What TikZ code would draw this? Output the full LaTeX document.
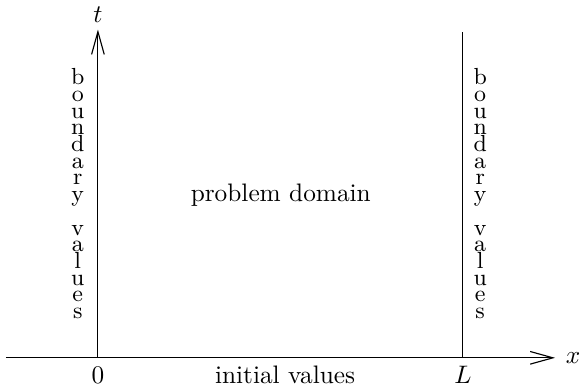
\documentclass[tikz,border=0pt]{standalone}
\usepackage{amsmath}
\usetikzlibrary{positioning,calc,arrows.meta}
\tikzstyle{axis} = [-{Straight Barb[length=9pt,width=5pt]}, line width=0.45pt]
\tikzstyle{wall} = [line width=0.45pt]
\tikzstyle{stack} = [align=center, font=\fontsize{9.2}{6.6}\selectfont]

\begin{document}
\begin{tikzpicture}
\tikzstyle{every node}=[inner sep=1pt, font=\fontsize{10}{12}\selectfont]
	\useasboundingbox (-1.36,-0.39) rectangle (6.71,4.97);
	\coordinate (o) at (0,0);
	\coordinate (xl) at (-1.28,0);
	\coordinate (xr) at (6.35,0);
	\coordinate (tt) at (0,4.56);
	\coordinate (lb) at (5.07,0);
	\coordinate (lt) at (5.07,4.53);

	\node (t) at (0,4.77) {$t$};
	\node (x) at (6.6,0) {$x$};
	\node[anchor=base] (zero) at (0,-0.35) {$0$};
	\node[anchor=base] (len) at (5.07,-0.35) {$L$};
	\node[anchor=base] (init) at (2.6,-0.35) {initial values};
	\node (dom) at (2.54,2.26) {problem domain};
	\node[stack] (bvl) at (-0.28,2.28) {b\\o\\u\\n\\d\\a\\r\\y\\[6.6pt]v\\a\\l\\u\\e\\s};
	\node[stack] (bvr) at (5.31,2.28) {b\\o\\u\\n\\d\\a\\r\\y\\[6.6pt]v\\a\\l\\u\\e\\s};

	\draw[axis]  (xl) -- (xr);
	\draw[axis]  (o) -- (tt);
	\draw[wall]  (lb) -- (lt);
\end{tikzpicture}
\end{document}
